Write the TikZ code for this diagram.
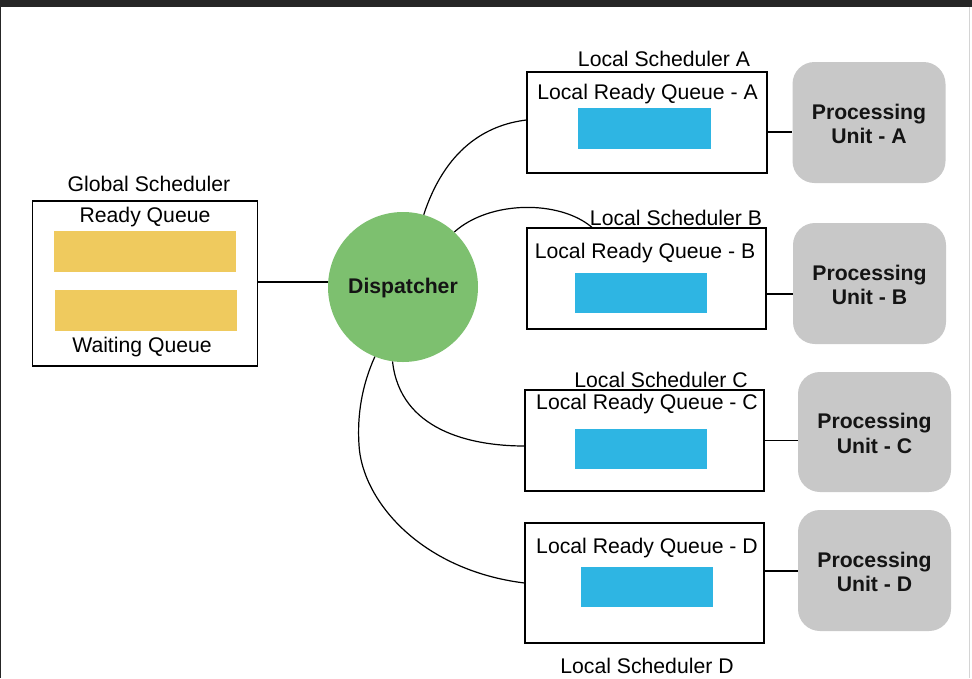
\documentclass[tikz,border=0pt]{standalone}
\usepackage{fontspec}
\setmainfont{Liberation Sans}
\definecolor{barbg}{HTML}{262626}
\definecolor{qyellow}{HTML}{EFCA5E}
\definecolor{qblue}{HTML}{2EB5E3}
\definecolor{dgreen}{HTML}{7DC06F}
\definecolor{pgray}{HTML}{C8C8C8}
\definecolor{edgegray}{HTML}{D4D4D4}
\begin{document}
\begin{tikzpicture}[x=1pt,y=-1pt,
  lbl/.style={inner sep=0pt,yshift=-1.5pt,font=\fontsize{21.2}{24}\selectfont,text=black},
  box/.style={draw=black,line width=1.2pt,fill=white,inner sep=0pt},
  ybar/.style={fill=qyellow,inner sep=0pt,minimum width=182pt,minimum height=41pt},
  bbar/.style={fill=qblue,inner sep=0pt,minimum width=132pt,minimum height=40pt},
  pu/.style={fill=pgray,rounded corners=22pt,inner sep=0pt,minimum width=153pt,minimum height=121pt},
  putext/.style={inner sep=0pt,yshift=-1.5pt,align=center,font=\fontsize{21.2}{24.5}\selectfont\bfseries,text={black!92}},
  conn/.style={draw=black,line width=1.2pt}]
\useasboundingbox (0,0) rectangle (972,678);
\fill[white] (0,0) rectangle (972,678);
\fill[barbg] (0,0) rectangle (972,7);
\fill[barbg] (0,0) rectangle (1.2,678);
\fill[edgegray] (968.5,7) rectangle (970,678);

% global scheduler
\node[box,minimum width=225pt,minimum height=165pt] (gs) at (145,283.5) {};
\node[lbl] (gst) at (149,182) {Global Scheduler};
\node[lbl] (rq) at (145,216) {Ready Queue};
\node[ybar] (y1) at (145,251.5) {};
\node[ybar] (y2) at (146,310.5) {};
\node[lbl] (wq) at (142,346) {Waiting Queue};

% dispatcher
\node[circle,fill=dgreen,minimum size=150pt,inner sep=0pt] (disp) at (403,287) {};
\node[putext] (dispt) at (disp.center) {Dispatcher};

% local schedulers
\node[box,minimum width=240pt,minimum height=101pt] (la) at (647,122.5) {};
\node[bbar,minimum width=133pt,minimum height=41pt] (ba) at (644.5,128.5) {};
\node[lbl] (lat) at (664,57) {Local Scheduler A};
\node[lbl] (laq) at (647.5,93) {Local Ready Queue - A};

\node[box,minimum width=239pt,minimum height=101pt] (lb) at (646.5,278.5) {};
\node[bbar] (bb) at (641,293) {};
\node[lbl] (lbq) at (645,252) {Local Ready Queue - B};

\node[box,minimum width=239pt,minimum height=101pt] (lc) at (644.5,440.5) {};
\node[bbar] (bc) at (641,449) {};
\node[lbl] (lct) at (661,378) {Local Scheduler C};
\node[lbl] (lcq) at (647,403) {Local Ready Queue - C};

\node[box,minimum width=239pt,minimum height=120pt] (ld) at (644.5,583) {};
\node[bbar] (bd) at (647,587) {};
\node[lbl] (ldq) at (647,547) {Local Ready Queue - D};
\node[lbl] (ldt) at (647,664) {Local Scheduler D};

% processing units
\node[pu] (pa) at (869,122.5) {};
\node[putext] (pat) at (pa.center) {Processing\\Unit - A};
\node[pu] (pb) at (869.5,283.5) {};
\node[putext] (pbt) at (pb.center) {Processing\\Unit - B};
\node[pu,minimum height=120pt] (pc) at (874.5,432) {};
\node[putext] (pct) at (pc.center) {Processing\\Unit - C};
\node[pu] (pd) at (874.5,570.5) {};
\node[putext] (pdt) at (pd.center) {Processing\\Unit - D};

% connectors
\draw[conn] ([yshift=1.5pt]gs.east) -- ([yshift=1.5pt]gs.east -| disp.west);
\draw[conn] ([yshift=-9.5pt]la.east) -- ([yshift=-9.5pt]la.east -| pa.west);
\draw[conn] ([yshift=-15.5pt]lb.east) -- ([yshift=-15.5pt]lb.east -| pb.west);
\draw[conn] (lc.east) -- (lc.east -| pc.west);
\draw[conn] ([yshift=12pt]ld.east) -- ([yshift=12pt]ld.east -| pd.west);

\draw[conn] (disp.74) .. controls (445,150) and (485,125) .. ([yshift=2.5pt]la.west);
\draw[conn] (disp.47) .. controls (490,200) and (560,200) .. ([xshift=-54.5pt]lb.north);
\draw[conn] (disp.262) .. controls (400,430) and (470,446) .. ([yshift=-5.5pt]lc.west);
\coordinate (dmid) at (359,445);
\draw[conn] (disp.248) .. controls (362,385) and (357,415) .. (dmid)
  .. controls (362,500) and (420,570) .. (ld.west);
% label B drawn last so it sits over the connector end
\node[lbl] (lbt) at (676,216) {Local Scheduler B};
\end{tikzpicture}
\end{document}
